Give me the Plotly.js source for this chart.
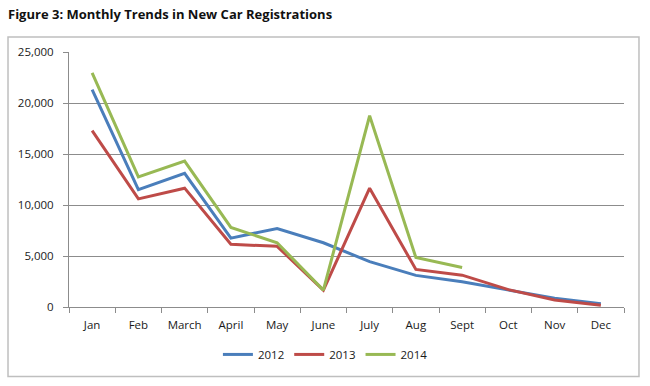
<!DOCTYPE html>
<html>
<head>
<meta charset="utf-8">
<script src="https://cdn.plot.ly/plotly-3.0.1.min.js"></script>
<style>html,body{margin:0;padding:0;background:#fff;}#chart{width:650px;height:386px;}</style>
</head>
<body>
<div id="chart"></div>
<script>
const months = ["Jan","Feb","March","April","May","June","July","Aug","Sept","Oct","Nov","Dec"];
const y2012 = [21300, 11500, 13100, 6750, 7700, 6300, 4450, 3100, 2480, 1700, 850, 330];
const y2013 = [17300, 10600, 11650, 6150, 5950, 1650, 11650, 3680, 3120, 1700, 680, 180];
const y2014 = [22950, 12750, 14300, 7800, 6300, 1650, 18750, 4850, 3880];
const seriesNames = ["2012","2013","2014"];
const colors = ["#4a7ebb","#be4b48","#98b954"];

const font = "Open Sans, Noto Sans, sans-serif";
const data = [y2012, y2013, y2014].map((vals, i) => ({
  type: "scatter", mode: "lines",
  x: months.slice(0, vals.length), y: vals,
  name: seriesNames[i],
  line: {color: colors[i], width: 3}
}));

const layout = {
  width: 650, height: 386,
  margin: {l: 69, r: 26, t: 52, b: 79.3},
  paper_bgcolor: "#fff", plot_bgcolor: "#fff",
  font: {family: font, size: 11, color: "#1a1a1a"},
  title: {
    text: "<b>Figure 3: Monthly Trends in New Car Registrations</b>",
    xref: "container", yref: "container",
    x: 8/650, xanchor: "left", y: 1 - 14/386, yanchor: "middle",
    font: {family: font, size: 13, color: "#111"}
  },
  xaxis: {
    type: "category", range: [-0.5, 11.5],
    showgrid: false, showline: true, linecolor: "#8c8c8c", linewidth: 1,
    ticks: "outside", tickson: "boundaries", ticklen: 5, tickcolor: "#8c8c8c",
    ticklabelstandoff: 7,
    tickfont: {family: font, size: 11.5, color: "#1a1a1a"}, fixedrange: true
  },
  yaxis: {
    range: [0, 25000], dtick: 5000, tickformat: ",d",
    showgrid: true, gridcolor: "#8c8c8c", gridwidth: 1,
    showline: true, linecolor: "#8c8c8c", linewidth: 1,
    ticks: "outside", ticklen: 5, tickcolor: "#8c8c8c",
    ticklabelstandoff: 7,
    zeroline: false,
    tickfont: {family: font, size: 11.5, color: "#1a1a1a"}, fixedrange: true
  },
  showlegend: true,
  legend: {
    orientation: "h", x: 0.462, xanchor: "center", y: -0.186, yanchor: "middle",
    font: {family: font, size: 11.5, color: "#1a1a1a"}, itemwidth: 30, tracegroupgap: 0
  },
  shapes: [{
    type: "rect", xref: "paper", yref: "paper",
    x0: -0.1099, x1: 1.027, y0: -0.2724, y1: 1.059,
    line: {color: "#bfbfbf", width: 1.5}, layer: "below"
  }]
};

Plotly.newPlot("chart", data, layout, {displayModeBar: false, staticPlot: true});
</script>
</body>
</html>
